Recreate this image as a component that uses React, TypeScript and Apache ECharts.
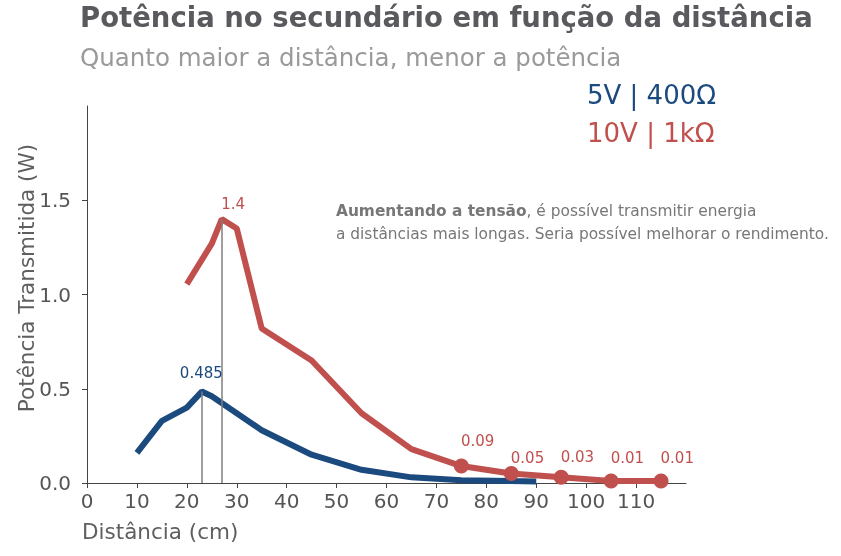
import React, { useEffect, useRef } from "react";
import * as echarts from "echarts";

const blueX = [10, 15, 20, 23, 25, 35, 45, 55, 65, 75, 85, 90];
const blueY = [0.16, 0.33, 0.4, 0.485, 0.46, 0.28, 0.15, 0.07, 0.03, 0.015, 0.01, 0.008];
const redX = [20, 25, 27, 30, 35, 45, 55, 65, 75, 85, 95, 105, 115];
const redY = [1.055, 1.27, 1.4, 1.35, 0.82, 0.65, 0.37, 0.18, 0.09, 0.05, 0.03, 0.01, 0.01];
const redMarkerFrom = 75;
const xTicks = [0, 10, 20, 30, 40, 50, 60, 70, 80, 90, 100, 110];
const yTicks = [0, 0.5, 1.0, 1.5];
const bluePeak = { x: 23, y: 0.485, label: "0.485" };
const redPeak = { x: 27, y: 1.4, label: "1.4" };
const legendLabels = ["5V | 400Ω", "10V | 1kΩ"];
const titleText = "Potência no secundário em função da distância";
const subtitleText = "Quanto maior a distância, menor a potência";

const BLUE = "#1b4a7e";
const RED = "#c0504d";
const FONT = "DejaVu Sans";

export default function App() {
  const ref = useRef<HTMLDivElement>(null);
  useEffect(() => {
    if (!ref.current) return;
    const chart = echarts.init(ref.current, null, { renderer: "svg" });
    const blueData = blueX.map((x, i) => [x, blueY[i]]);
    const redData = redX.map((x, i) => [x, redY[i]]);
    const markerData = redData.filter((d) => d[0] >= redMarkerFrom);
    const labelLift = (v: number) => (v >= 0.08 ? -18 : v >= 0.04 ? -8 : v >= 0.02 ? -13 : -16);

    chart.setOption({
      animation: false,
      textStyle: { fontFamily: FONT },
      grid: { left: 87, right: 155, top: 106, bottom: 73 },
      xAxis: {
        type: "value",
        min: 0,
        max: 120,
        interval: 10,
        axisLine: { show: true, lineStyle: { color: "#444", width: 1 } },
        axisTick: { show: true, length: 5, inside: false, customValues: xTicks, lineStyle: { color: "#444" } },
        axisLabel: {
          customValues: xTicks,
          color: "#555",
          fontSize: 20,
          fontFamily: FONT,
          margin: 8,
        },
        splitLine: { show: false },
      },
      yAxis: {
        type: "value",
        min: 0,
        max: 2,
        interval: 0.5,
        axisLine: { show: true, lineStyle: { color: "#444", width: 1 } },
        axisTick: { show: true, length: 5, inside: false, customValues: yTicks, lineStyle: { color: "#444" } },
        axisLabel: {
          customValues: yTicks,
          color: "#555",
          fontSize: 20,
          fontFamily: FONT,
          margin: 16,
          formatter: (v: number) => v.toFixed(1),
        },
        splitLine: { show: false },
      },
      series: [
        {
          type: "line",
          data: blueData,
          showSymbol: false,
          lineStyle: { color: BLUE, width: 6 },
          itemStyle: { color: BLUE },
          z: 2,
          markLine: {
            silent: true,
            symbol: "none",
            label: { show: false },
            lineStyle: { color: "#7f7f7f", width: 1.5, type: "solid" },
            data: [[{ coord: [bluePeak.x, 0] }, { coord: [bluePeak.x, bluePeak.y] }]],
          },
          markPoint: {
            silent: true,
            symbol: "circle",
            symbolSize: 1,
            itemStyle: { color: "rgba(0,0,0,0)" },
            label: {
              show: true,
              formatter: bluePeak.label,
              position: [0, -18],
              align: "center",
              verticalAlign: "middle",
              color: BLUE,
              fontSize: 15,
              fontFamily: FONT,
            },
            data: [{ coord: [bluePeak.x, bluePeak.y] }],
          },
        },
        {
          type: "line",
          data: redData,
          showSymbol: false,
          lineStyle: { color: RED, width: 6 },
          itemStyle: { color: RED },
          z: 3,
          markLine: {
            silent: true,
            symbol: "none",
            label: { show: false },
            lineStyle: { color: "#7f7f7f", width: 1.5, type: "solid" },
            data: [[{ coord: [redPeak.x, 0] }, { coord: [redPeak.x, redPeak.y] }]],
          },
          markPoint: {
            silent: true,
            symbol: "circle",
            symbolSize: 1,
            itemStyle: { color: "rgba(0,0,0,0)" },
            label: {
              show: true,
              formatter: redPeak.label,
              position: [0, -15],
              align: "left",
              verticalAlign: "middle",
              color: RED,
              fontSize: 15,
              fontFamily: FONT,
            },
            data: [{ coord: [redPeak.x, redPeak.y] }],
          },
        },
        {
          type: "scatter",
          symbol: "circle",
          symbolSize: 15,
          itemStyle: { color: RED, opacity: 1 },
          z: 4,
          data: markerData.map((d) => ({
            value: d,
            label: {
              show: true,
              formatter: String(d[1]),
              position: [7, labelLift(d[1])],
              align: "left",
              verticalAlign: "middle",
              color: RED,
              fontSize: 15,
              fontFamily: FONT,
            },
          })),
        },
      ],
      graphic: [
        {
          type: "text",
          left: 80,
          top: 3,
          style: { text: titleText, fill: "#59595e", font: `bold 27.5px "${FONT}"` },
        },
        {
          type: "text",
          left: 80,
          top: 45,
          style: { text: subtitleText, fill: "#9a9a9a", font: `24.5px "${FONT}"` },
        },
        {
          type: "text",
          left: 587,
          top: 82,
          style: { text: legendLabels[0], fill: BLUE, font: `26px "${FONT}"` },
        },
        {
          type: "text",
          left: 587,
          top: 120,
          style: { text: legendLabels[1], fill: RED, font: `26px "${FONT}"` },
        },
        {
          type: "text",
          left: 336,
          top: 199,
          style: {
            text: "{b|Aumentando a tensão}, é possível transmitir energia\na distâncias mais longas. Seria possível melhorar o rendimento.",
            fill: "#777",
            font: `15.4px "${FONT}"`,
            lineHeight: 23,
            rich: {
              b: { fontWeight: "bold", fontSize: 15.4, fontFamily: FONT, fill: "#777", lineHeight: 23 },
            },
          },
        },
        {
          type: "text",
          left: 82,
          top: 520,
          style: { text: "Distância (cm)", fill: "#5f5f5f", font: `21.5px "${FONT}"` },
        },
        {
          type: "text",
          x: 26,
          y: 278,
          rotation: Math.PI / 2,
          style: {
            text: "Potência Transmitida (W)",
            fill: "#5f5f5f",
            font: `21.5px "${FONT}"`,
            align: "center",
            verticalAlign: "middle",
          },
        },
      ],
    });
    return () => chart.dispose();
  }, []);
  return (
    <div
      ref={ref}
      style={{ position: "fixed", left: 0, top: 0, width: 841, height: 556 }}
    />
  );
}
